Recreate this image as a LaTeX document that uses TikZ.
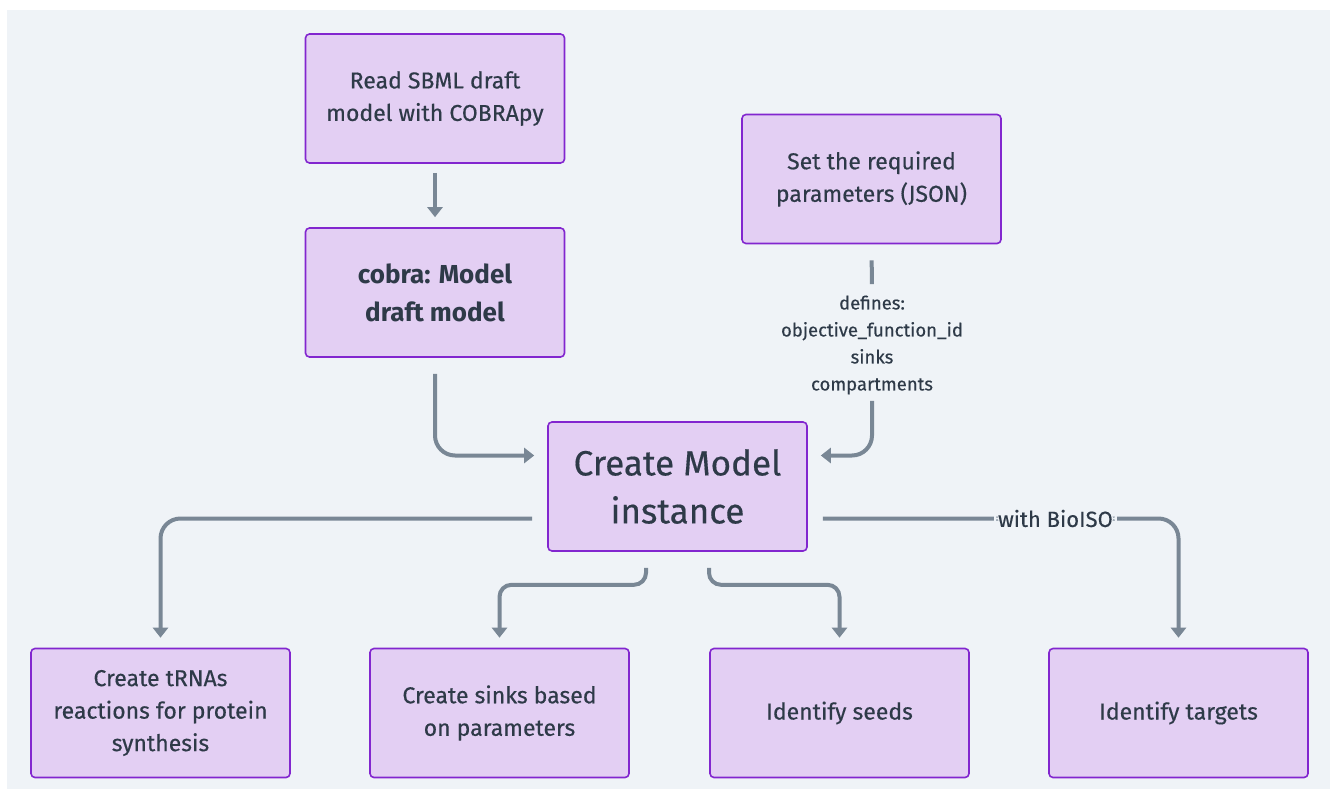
\documentclass[tikz,border=0pt]{standalone}
\usepackage{fontspec}
\setmainfont{Fira Sans}[UprightFeatures={FakeBold=0.4}]
\usetikzlibrary{arrows.meta}
\definecolor{bgcol}{HTML}{EFF3F7}
\definecolor{boxfill}{HTML}{E3CFF3}
\definecolor{boxline}{HTML}{8226CF}
\definecolor{txtcol}{HTML}{2E3A48}
\definecolor{arrcol}{HTML}{798795}
\tikzset{
  stepbox/.style={draw=boxline, fill=boxfill, line width=1.6pt, rounded corners=4pt,
    minimum width=259pt, minimum height=129pt, align=center, text=txtcol,
    font=\fontsize{23}{32.5}\selectfont},
  conn/.style={draw=arrcol, line width=4pt},
  arr/.style={conn, -{Triangle[width=15pt,length=10pt]}},
  lbl/.style={text=txtcol, align=center, font=\fontsize{18.5}{27}\selectfont}
}
\begin{document}
\begin{tikzpicture}[x=1pt,y=1pt]
  \fill[bgcol] (7,-10) rectangle (1330,-789);
  \useasboundingbox (0,0) rectangle (1330,-789);

  \node[stepbox] (read) at (435,-98.5) {Read SBML draft\\model with COBRApy};
  \node[stepbox, font=\fontsize{26}{38}\selectfont\bfseries] (cobra) at (435,-292.5) {cobra: Model\\draft model};
  \node[stepbox] (params) at (871.5,-179) {Set the required\\parameters (JSON)};
  \node[stepbox, font=\fontsize{35}{48}\selectfont] (create) at (677.5,-486.5) {Create Model\\instance};

  \node[stepbox] (trna) at (160.5,-713) {Create tRNAs\\reactions for protein\\synthesis};
  \node[stepbox] (sinks) at (499.5,-713) {Create sinks based\\on parameters};
  \node[stepbox] (seeds) at (839.5,-713) {Identify seeds};
  \node[stepbox] (targets) at (1178.5,-713) {Identify targets};

  \node[lbl] (defs) at (872,-345) {defines:\\objective\_function\_id\\sinks\\compartments};

  % inputs
  \draw[arr] ([yshift=-9pt]read.south) -- ([yshift=10pt]cobra.north);
  \draw[arr, rounded corners=20pt] ([yshift=-16pt]cobra.south) |- ([xshift=-13pt,yshift=31pt]create.west);
  \draw[conn, shorten <=16pt, shorten >=8pt] (params.south) -- (defs.north);
  \draw[arr, rounded corners=20pt, shorten <=3pt] (defs.south) |- ([xshift=13pt,yshift=31pt]create.east);

  % outputs
  \draw[arr, rounded corners=20pt] ([xshift=-15pt,yshift=-32pt]create.west) -| ([yshift=10pt]trna.north);
  \draw[arr, rounded corners=12pt] ([xshift=-31.5pt,yshift=-16pt]create.south) -- ++(0,-17) -| ([yshift=10pt]sinks.north);
  \draw[arr, rounded corners=12pt] ([xshift=31.5pt,yshift=-16pt]create.south) -- ++(0,-17) -| ([yshift=10pt]seeds.north);
  \draw[arr, rounded corners=20pt] ([xshift=15pt,yshift=-32pt]create.east) -| node[pos=0.327, lbl, fill=bgcol,
    font=\fontsize{22}{24}\selectfont, inner xsep=4pt, inner ysep=1pt] (bioiso) {with BioISO} ([yshift=10pt]targets.north);
\end{tikzpicture}
\end{document}
